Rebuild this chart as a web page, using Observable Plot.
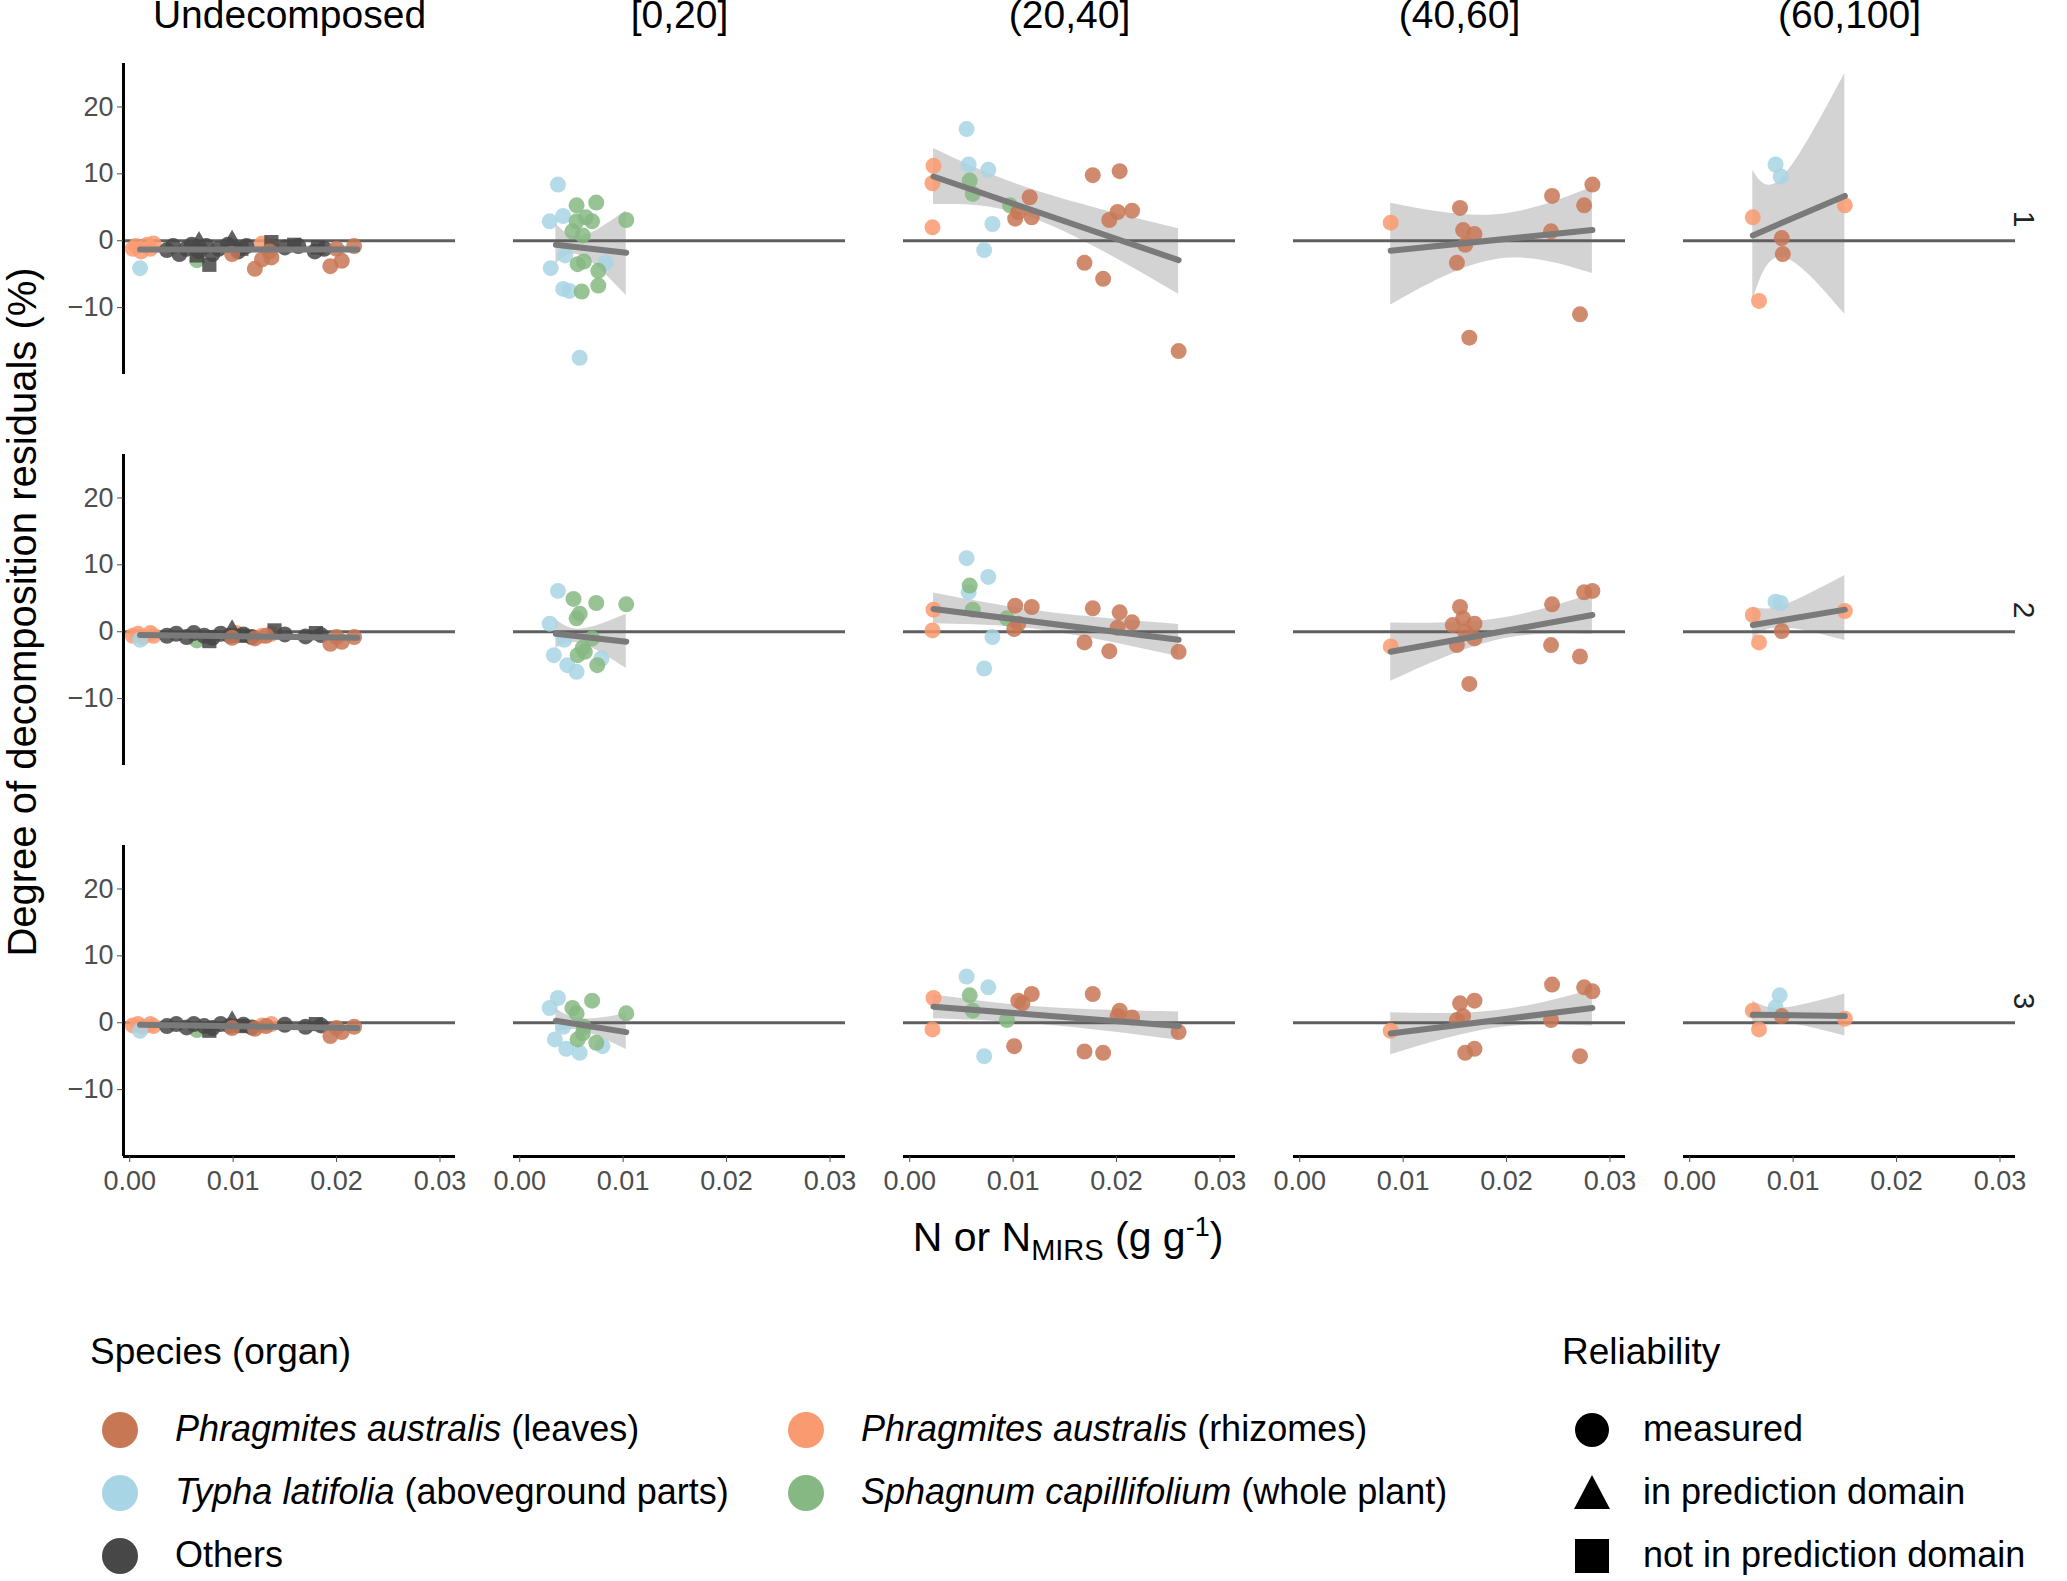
<!DOCTYPE html>
<html><head><meta charset="utf-8">
<script src="https://cdn.jsdelivr.net/npm/d3@7"></script>
<script src="https://cdn.jsdelivr.net/npm/@observablehq/plot@0.6"></script>
<style>
body{margin:0;background:#fff;font-family:"Liberation Sans",Arial,sans-serif;}
#wrap{position:relative;width:2067px;height:1581px;}
.t{position:absolute;white-space:nowrap;color:#000;}
.dot{position:absolute;width:36px;height:36px;border-radius:50%;}
</style></head><body><div id="wrap"></div>
<script>
const cols = ["Undecomposed","[0,20]","(20,40]","(40,60]","(60,100]"];
const rows = ["1","2","3"];
const speciesCodes = ["L","R","T","S","O"];
const speciesColors = ["#C87755","#FA9A70","#A8D5E5","#86B883","#474747"];
const shapes = ["m","i","n"];
const xTicks = [0,0.01,0.02,0.03];
const yTicks = [-10,0,10,20];

// [row, species, shape, x, y]
const undecomposed = [
 ["1","R","m",0.0003,-1.2],["1","R","m",0.0006,-0.8],["1","R","m",0.0011,-1.6],["1","R","m",0.0017,-0.6],["1","R","m",0.002,-1.2],["1","R","m",0.0023,-0.4],["1","R","m",0.0128,-0.4],["1","R","m",0.0137,-0.8],
 ["1","T","m",0.001,-4.1],["1","S","m",0.0065,-2.9],
 ["1","O","m",0.0036,-1.4],["1","O","m",0.0042,-0.8],["1","O","m",0.0048,-2],["1","O","m",0.0055,-1.2],["1","O","m",0.006,-0.6],["1","O","m",0.0067,-1.6],["1","O","m",0.0074,-0.8],["1","O","m",0.008,-2],["1","O","m",0.0086,-1.2],["1","O","m",0.0095,-0.6],["1","O","m",0.0105,-1.6],["1","O","m",0.0113,-0.8],["1","O","m",0.015,-1],["1","O","m",0.0163,-0.8],["1","O","m",0.0179,-1.6],["1","O","m",0.0188,-1.2],
 ["1","O","n",0.0077,-3.6],["1","O","n",0.0065,-2.2],["1","O","n",0.0108,-1.2],["1","O","n",0.0137,-0.2],["1","O","n",0.0159,-0.6],["1","O","n",0.0182,-1],["1","O","i",0.0099,-0.2],["1","O","i",0.0067,-0.4],
 ["1","L","m",0.0099,-2],["1","L","m",0.0121,-4.2],["1","L","m",0.0128,-2.8],["1","L","m",0.0135,-1.6],["1","L","m",0.0137,-2.5],["1","L","m",0.0194,-3.8],["1","L","m",0.0205,-3],["1","L","m",0.02,-1.2],["1","L","m",0.0217,-0.8],
 ["2","R","m",0.0003,-0.6],["2","R","m",0.0008,-0.3],["2","R","m",0.0013,-0.8],["2","R","m",0.002,-0.2],["2","R","m",0.0023,-0.6],["2","R","m",0.0103,-0.2],["2","R","m",0.0128,-0.6],["2","R","m",0.0137,-0.3],
 ["2","T","m",0.001,-1.2],["2","S","m",0.0065,-1.3],
 ["2","O","m",0.0036,-0.6],["2","O","m",0.0045,-0.3],["2","O","m",0.0055,-0.8],["2","O","m",0.0062,-0.2],["2","O","m",0.0072,-0.6],["2","O","m",0.008,-0.9],["2","O","m",0.0088,-0.3],["2","O","m",0.0097,-0.6],["2","O","m",0.011,-0.4],["2","O","m",0.0118,-0.8],["2","O","m",0.015,-0.4],["2","O","m",0.017,-0.7],["2","O","m",0.0185,-0.5],
 ["2","O","n",0.0077,-1.4],["2","O","n",0.0108,-0.6],["2","O","n",0.014,0.2],["2","O","n",0.018,-0.2],["2","O","i",0.0099,0],
 ["2","L","m",0.0099,-0.9],["2","L","m",0.0121,-1],["2","L","m",0.0132,-0.6],["2","L","m",0.0194,-1.8],["2","L","m",0.0205,-1.5],["2","L","m",0.02,-0.8],["2","L","m",0.0217,-0.8],
 ["3","R","m",0.0003,-0.4],["3","R","m",0.0008,-0.2],["3","R","m",0.0013,-0.6],["3","R","m",0.002,-0.2],["3","R","m",0.0023,-0.5],["3","R","m",0.0128,-0.4],["3","R","m",0.0137,-0.2],
 ["3","T","m",0.001,-1.2],["3","S","m",0.0065,-1.1],
 ["3","O","m",0.0036,-0.5],["3","O","m",0.0045,-0.2],["3","O","m",0.0055,-0.7],["3","O","m",0.0062,-0.2],["3","O","m",0.0072,-0.5],["3","O","m",0.008,-0.8],["3","O","m",0.0088,-0.2],["3","O","m",0.0097,-0.5],["3","O","m",0.011,-0.3],["3","O","m",0.0118,-0.7],["3","O","m",0.015,-0.3],["3","O","m",0.017,-0.6],["3","O","m",0.0185,-0.4],
 ["3","O","n",0.0077,-1.2],["3","O","n",0.0108,-0.5],["3","O","n",0.018,-0.2],["3","O","i",0.0099,0],
 ["3","L","m",0.0099,-0.8],["3","L","m",0.0121,-0.9],["3","L","m",0.0132,-0.5],["3","L","m",0.0194,-2],["3","L","m",0.0205,-1.4],["3","L","m",0.02,-0.8],["3","L","m",0.0217,-0.6]
];
const p0_20 = [
 ["1","T",0.0037,8.4],["1","T",0.0029,2.9],["1","T",0.0042,3.7],["1","T",0.003,-4.1],["1","T",0.0042,-7.2],["1","T",0.0048,-7.5],["1","T",0.0058,-17.5],["1","T",0.0044,-2.2],["1","T",0.0083,-3.3],
 ["1","S",0.0055,5.3],["1","S",0.0074,5.7],["1","S",0.0055,2.9],["1","S",0.0064,3.5],["1","S",0.007,2.9],["1","S",0.0051,1.4],["1","S",0.0061,0.8],["1","S",0.0062,-3.1],["1","S",0.0056,-3.5],["1","S",0.0076,-6.7],["1","S",0.006,-7.6],["1","S",0.0103,3.1],["1","S",0.0076,-4.5],
 ["2","T",0.0037,6.1],["2","T",0.0029,1.2],["2","T",0.0033,-3.5],["2","T",0.0046,-5],["2","T",0.0055,-6],["2","T",0.0079,-4],["2","T",0.0043,-1.2],
 ["2","S",0.0052,4.9],["2","S",0.0074,4.3],["2","S",0.0055,2],["2","S",0.0058,2.7],["2","S",0.0103,4.1],["2","S",0.0061,-2.4],["2","S",0.0056,-3.5],["2","S",0.0075,-5],["2","S",0.0063,-3],["2","S",0.007,-1],
 ["3","T",0.0037,3.7],["3","T",0.0029,2.2],["3","T",0.0034,-2.5],["3","T",0.0045,-3.9],["3","T",0.0058,-4.5],["3","T",0.008,-3.5],["3","T",0.0042,-0.6],
 ["3","S",0.0051,2.2],["3","S",0.0055,1.4],["3","S",0.007,3.3],["3","S",0.0103,1.4],["3","S",0.0061,-1.6],["3","S",0.0056,-2.5],["3","S",0.0074,-3],["3","S",0.0062,-0.6]
];
const p20_40 = [
 ["1","R",0.0023,11.2],["1","R",0.0022,8.6],["1","R",0.0022,2.0],
 ["1","T",0.0055,16.7],["1","T",0.0057,11.4],["1","T",0.0076,10.6],["1","T",0.008,2.5],["1","T",0.0072,-1.4],
 ["1","S",0.0058,9],["1","S",0.0061,7],["1","S",0.0097,5.3],
 ["1","L",0.0102,3.3],["1","L",0.0105,4.3],["1","L",0.0116,6.5],["1","L",0.0118,3.5],["1","L",0.0177,9.8],["1","L",0.0203,10.4],["1","L",0.0201,4.3],["1","L",0.0215,4.5],["1","L",0.0193,3.1],["1","L",0.0169,-3.3],["1","L",0.0187,-5.7],["1","L",0.026,-16.5],
 ["2","R",0.0023,3.3],["2","R",0.0022,0.2],
 ["2","T",0.0055,11],["2","T",0.0057,5.9],["2","T",0.0076,8.2],["2","T",0.008,-0.8],["2","T",0.0072,-5.5],
 ["2","S",0.0058,6.9],["2","S",0.0061,3.3],["2","S",0.0094,2],
 ["2","L",0.0102,3.9],["2","L",0.0118,3.7],["2","L",0.0105,1.2],["2","L",0.0169,-1.6],["2","L",0.0177,3.5],["2","L",0.0203,2.9],["2","L",0.0215,1.4],["2","L",0.0193,-2.9],["2","L",0.0201,0.6],["2","L",0.026,-3],["2","L",0.0101,0.4],
 ["3","R",0.0023,3.7],["3","R",0.0022,-1],
 ["3","T",0.0055,6.9],["3","T",0.0076,5.3],["3","T",0.0072,-5],
 ["3","S",0.0058,4.1],["3","S",0.0061,1.8],["3","S",0.0094,0.4],
 ["3","L",0.0105,3.3],["3","L",0.0118,4.3],["3","L",0.0101,-3.5],["3","L",0.0109,2.9],["3","L",0.0177,4.3],["3","L",0.0169,-4.3],["3","L",0.0187,-4.5],["3","L",0.0203,1.8],["3","L",0.0215,0.8],["3","L",0.0201,1],["3","L",0.026,-1.4]
];
const p40_60 = [
 ["1","R",0.0088,2.7],
 ["1","L",0.0155,4.9],["1","L",0.0158,1.6],["1","L",0.0169,1],["1","L",0.016,-0.6],["1","L",0.0152,-3.3],["1","L",0.0164,-14.5],["1","L",0.0244,6.7],["1","L",0.0275,5.3],["1","L",0.0283,8.4],["1","L",0.0243,1.4],["1","L",0.0271,-11],
 ["2","R",0.0088,-2.2],
 ["2","L",0.0155,3.7],["2","L",0.0158,2],["2","L",0.0169,1.2],["2","L",0.016,0],["2","L",0.0152,-2],["2","L",0.0164,-7.8],["2","L",0.0148,1],["2","L",0.0244,4.1],["2","L",0.0275,5.9],["2","L",0.0283,6.1],["2","L",0.0243,-2],["2","L",0.0271,-3.7],["2","L",0.0169,-1],
 ["3","R",0.0088,-1.2],
 ["3","L",0.0155,2.9],["3","L",0.0158,1],["3","L",0.0169,3.3],["3","L",0.016,-4.5],["3","L",0.0169,-3.9],["3","L",0.0152,0.4],["3","L",0.0244,5.7],["3","L",0.0275,5.3],["3","L",0.0283,4.7],["3","L",0.0243,0.4],["3","L",0.0271,-5]
];
const p60_100 = [
 ["1","R",0.0061,3.5],["1","R",0.0067,-9],["1","R",0.015,5.3],["1","T",0.0083,11.4],["1","T",0.0088,9.6],["1","L",0.0089,0.4],["1","L",0.009,-2],
 ["2","R",0.0061,2.5],["2","R",0.0067,-1.6],["2","R",0.015,3.1],["2","T",0.0083,4.5],["2","T",0.0088,4.3],["2","L",0.0089,0.1],
 ["3","R",0.0061,1.8],["3","R",0.0067,-1],["3","R",0.015,0.6],["3","T",0.0087,4.1],["3","T",0.0083,2.3],["3","L",0.0089,1]
];
// fit lines [col,row,x0,y0,x1,y1]
const fits = [
 ["Undecomposed","1",0.001,-1.3,0.022,-1.3],["Undecomposed","2",0.001,-0.5,0.022,-0.9],["Undecomposed","3",0.001,-0.3,0.022,-0.8],
 ["[0,20]","1",0.0035,-0.6,0.0103,-1.8],["[0,20]","2",0.0035,-0.3,0.0103,-1.5],["[0,20]","3",0.0035,0.3,0.0103,-1.4],
 ["(20,40]","1",0.0023,9.6,0.026,-2.9],["(20,40]","2",0.0023,3.4,0.026,-1.2],["(20,40]","3",0.0023,2.4,0.026,-0.5],
 ["(40,60]","1",0.0088,-1.5,0.0283,1.6],["(40,60]","2",0.0088,-3,0.0283,2.5],["(40,60]","3",0.0088,-1.6,0.0283,2.2],
 ["(60,100]","1",0.0061,0.8,0.015,6.7],["(60,100]","2",0.0061,1,0.015,3.3],["(60,100]","3",0.0061,1.2,0.015,1]
];
// confidence bands [col,row,x,lo,hi]
const bands = [
 ["Undecomposed","1",0.001,-1.8,-0.8],["Undecomposed","1",0.022,-1.8,-0.8],
 ["Undecomposed","2",0.001,-0.9,-0.1],["Undecomposed","2",0.022,-1.3,-0.5],
 ["Undecomposed","3",0.001,-0.7,0.1],["Undecomposed","3",0.022,-1.2,-0.4],
 ["[0,20]","1",0.0035,-3.5,2.5],["[0,20]","1",0.006,-2.3,0.7],["[0,20]","1",0.0103,-8.2,4.5],
 ["[0,20]","2",0.0035,-2.5,1.8],["[0,20]","2",0.006,-1.8,0.4],["[0,20]","2",0.0103,-5.5,2.6],
 ["[0,20]","3",0.0035,-1.5,2.1],["[0,20]","3",0.006,-1.2,0.6],["[0,20]","3",0.0103,-4,1.3],
 ["(20,40]","1",0.0023,5.4,13.8],["(20,40]","1",0.012,3.3,7.6],["(20,40]","1",0.026,-8,1.8],
 ["(20,40]","2",0.0023,1.2,5.8],["(20,40]","2",0.013,0.2,3],["(20,40]","2",0.026,-3.7,1.1],
 ["(20,40]","3",0.0023,0.6,4.2],["(20,40]","3",0.013,-0.3,2.3],["(20,40]","3",0.026,-2.6,1.6],
 ["(40,60]","1",0.0088,-9.6,5.6],["(40,60]","1",0.019,-2.8,3.9],["(40,60]","1",0.0283,-4.9,8],
 ["(40,60]","2",0.0088,-7.4,1.3],["(40,60]","2",0.019,-1.3,1.9],["(40,60]","2",0.0283,-0.4,5.6],
 ["(40,60]","3",0.0088,-4.8,1.5],["(40,60]","3",0.019,-0.8,1.8],["(40,60]","3",0.0283,-0.5,4.9],
 ["(60,100]","1",0.0061,-9,10.5],["(60,100]","1",0.009,-2.5,9.5],["(60,100]","1",0.015,-11,25],
 ["(60,100]","2",0.0061,-1,3.7],["(60,100]","2",0.009,0.6,3.9],["(60,100]","2",0.015,-1.3,8.4],
 ["(60,100]","3",0.0061,-1,3.3],["(60,100]","3",0.009,0,2.2],["(60,100]","3",0.015,-2,4.3]
];

const pts = [
 ...undecomposed.map(d=>({fx:cols[0],fy:d[0],sp:d[1],sh:d[2],x:d[3],y:d[4]})),
 ...[[p0_20,1],[p20_40,2],[p40_60,3],[p60_100,4]].flatMap(([a,i])=>a.map(d=>({fx:cols[i],fy:d[0],sp:d[1],sh:"m",x:d[2],y:d[3]})))
];
const fitPts = fits.flatMap(f=>[{fx:f[0],fy:f[1],x:f[2],y:f[3],k:f[0]+f[1]},{fx:f[0],fy:f[1],x:f[4],y:f[5],k:f[0]+f[1]}]);
const bandPts = bands.map(b=>({fx:b[0],fy:b[1],x:b[2],lo:b[3],hi:b[4],k:b[0]+b[1]}));
const allCells = cols.flatMap(c=>rows.map(r=>({fx:c,fy:r})));
const XMIN=-0.0006, XMAX=0.0315, YMIN=-20, YMAX=26.5;

const chart = Plot.plot({
 width:2067, height:1290,
 marginLeft:121, marginRight:50, marginTop:62, marginBottom:134,
 style:{fontFamily:"Liberation Sans, Arial, sans-serif", background:"white"},
 x:{domain:[XMIN,XMAX]},
 y:{domain:[YMIN,YMAX]},
 fx:{domain:cols, padding:0.15},
 fy:{domain:rows, padding:0.205},
 color:{domain:speciesCodes, range:speciesColors},
 symbol:{domain:shapes, range:["circle","triangle","square"]},
 marks:[
  Plot.areaY(bandPts,{fx:"fx",fy:"fy",x:"x",y1:"lo",y2:"hi",z:"k",fill:"#d3d3d3",curve:"natural"}),
  Plot.ruleY(allCells,{fx:"fx",fy:"fy",y:()=>0,stroke:"#5f5f5f",strokeWidth:3}),
  Plot.dot(pts,{fx:"fx",fy:"fy",x:"x",y:"y",fill:"sp",symbol:"sh",r:8,fillOpacity:0.85}),
  Plot.line(fitPts,{fx:"fx",fy:"fy",x:"x",y:"y",z:"k",stroke:"#7a7a7a",strokeWidth:6}),
  Plot.ruleX(rows.map(r=>({fx:cols[0],fy:r})),{fx:"fx",fy:"fy",x:()=>XMIN,stroke:"#000",strokeWidth:3}),
  Plot.ruleY(cols.map(c=>({fx:c,fy:"3"})),{fx:"fx",fy:"fy",y:()=>YMIN,stroke:"#000",strokeWidth:3}),
  Plot.axisY({ticks:yTicks,fontSize:27,tickSize:6,tickPadding:4,label:null,color:"#4d4d4d"}),
  Plot.axisX({ticks:xTicks,tickFormat:d3.format(".2f"),fontSize:27,tickSize:6,tickPadding:8,label:null,color:"#4d4d4d"}),
  Plot.axisFx({anchor:"top",tickSize:0,tickPadding:36,fontSize:39,label:null}),
  Plot.axisFy({anchor:"right",tickSize:0,tickPadding:20,fontSize:30,tickRotate:90,label:null,color:"#222"})
 ]
});
const wrap=document.getElementById("wrap");
chart.style.position="absolute";chart.style.left="0";chart.style.top="0";
wrap.appendChild(chart);

function txt(html,x,y,size,extra){const d=document.createElement("div");d.className="t";d.innerHTML=html;d.style.left=x+"px";d.style.top=y+"px";d.style.fontSize=size+"px";if(extra)Object.assign(d.style,extra);wrap.appendChild(d);return d;}
txt("Degree of decomposition residuals (%)",22,612,40,{transform:"translate(-50%,-50%) rotate(-90deg)",transformOrigin:"center"});
txt("N or N<sub style='font-size:29px'>MIRS</sub> (g g<sup style='font-size:27px'>-1</sup>)",1068,1212,41,{transform:"translateX(-50%)"});
txt("Species (organ)",90,1331,37);
txt("Reliability",1562,1331,37);
const legItems=[
 [0,0,"<i>Phragmites australis</i> (leaves)"],[1,1,"<i>Phragmites australis</i> (rhizomes)"],
 [2,0,"<i>Typha latifolia</i> (aboveground parts)"],[3,1,"<i>Sphagnum capillifolium</i> (whole plant)"],
 [4,0,"Others"]
];
const rowY=[1430,1493,1556];
legItems.forEach((it,i)=>{
 const r=Math.floor(i/2), cx = it[1]===0?120:806;
 const d=document.createElement("div");d.className="dot";d.style.background=speciesColors[it[0]];d.style.left=(cx-18)+"px";d.style.top=(rowY[r]-18)+"px";wrap.appendChild(d);
 txt(it[2],cx+55,rowY[r]-22,36);
});
const rel=["measured","in prediction domain","not in prediction domain"];
rel.forEach((t,i)=>{
 const s=document.createElementNS("http://www.w3.org/2000/svg","svg");
 s.setAttribute("width",40);s.setAttribute("height",40);
 s.style.position="absolute";s.style.left=(1572)+"px";s.style.top=(rowY[i]-20)+"px";
 s.innerHTML = i===0?'<circle cx="20" cy="20" r="17" fill="#000"/>': i===1?'<polygon points="20,2 38,36 2,36" fill="#000"/>':'<rect x="3" y="3" width="34" height="34" fill="#000"/>';
 wrap.appendChild(s);
 txt(t,1643,rowY[i]-22,36);
});
</script></body></html>
